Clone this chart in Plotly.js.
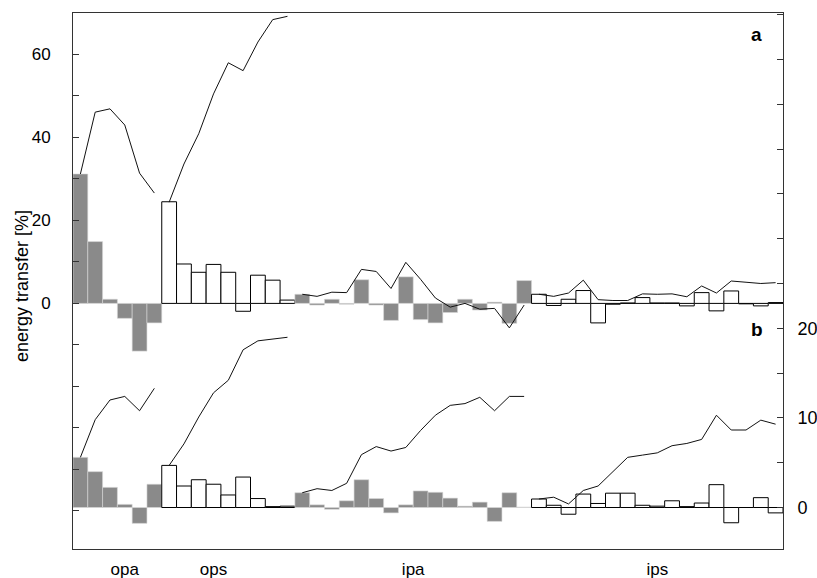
<!DOCTYPE html>
<html>
<head>
<meta charset="utf-8">
<script src="https://cdn.plot.ly/plotly-3.0.1.min.js"></script>
<style>html,body{margin:0;padding:0;background:#fff}#chart{width:817px;height:578px}</style>
</head>
<body>
<div id="chart"></div>
<script>
// Groups (categories)
const groups = ["opa", "ops", "ipa", "ips"];

// Panel a: bar values (left axis, %)
const opaA = [31.2, 14.9, 1.0, -3.6, -11.5, -4.7];
const opsA = [24.5, 9.5, 7.5, 9.4, 7.5, -1.9, 6.8, 5.6, 0.8];
const ipaA = [2.2, -0.4, 1.0, -0.2, 5.7, -0.4, -4.1, 6.4, -3.9, -4.7, -2.2, 1.0, -1.6, 0.3, -4.8, 5.5];
const ipsA = [2.2, -0.5, 1.0, 3.1, -4.7, -0.2, 0.1, 1.4, 0.1, 0.1, -0.6, 2.6, -1.8, 3.0, -0.1, -0.6, 0.2];

// Panel a: line values (left axis)
const opaALine = [31.2, 46.1, 46.9, 43.0, 31.4, 26.6];
const opsALine = [24.4, 33.6, 40.9, 50.5, 58.0, 56.1, 63.0, 68.4, 69.2];
const ipaALine = [2.2, 1.7, 2.7, 2.6, 8.2, 7.7, 3.6, 9.9, 5.8, 1.3, -0.9, 0.0, -1.4, -1.2, -5.9, -0.4];
const ipsALine = [2.2, 1.7, 2.5, 5.6, 0.9, 0.7, 0.7, 2.3, 2.2, 2.3, 1.6, 4.2, 2.5, 5.4, 5.1, 4.8, 5.0];

// Panel b: bar values (right axis)
const opaB = [5.6, 4.0, 2.25, 0.35, -1.77, 2.6];
const opsB = [4.7, 2.4, 3.1, 2.6, 1.4, 3.4, 1.0, 0.1, 0.15];
const ipaB = [1.65, 0.3, -0.2, 0.75, 3.1, 1.0, -0.6, 0.3, 1.85, 1.7, 1.05, 0.15, 0.6, -1.55, 1.65, 0.05];
const ipsB = [0.95, 0.25, -0.75, 1.5, 0.45, 1.6, 1.6, 0.25, 0.15, 0.75, 0.1, 0.5, 2.55, -1.7, 0.0, 1.1, -0.6];

// Panel b: line values (right axis)
const opaBLine = [5.6, 9.8, 12.0, 12.4, 10.8, 13.3];
const opsBLine = [4.7, 7.1, 10.1, 12.8, 14.2, 17.6, 18.6, 18.8, 19.0];
const ipaBLine = [1.65, 2.1, 1.9, 2.7, 5.9, 6.8, 6.3, 6.7, 8.6, 10.3, 11.4, 11.6, 12.3, 10.8, 12.4, 12.4];
const ipsBLine = [0.95, 1.15, 0.4, 1.9, 2.4, 4.0, 5.6, 5.85, 6.1, 6.9, 7.15, 7.6, 10.3, 8.65, 8.65, 9.75, 9.3];

// Axis tick labels
const leftTicks = [-50, -40, -30, -20, -10, 0, 10, 20, 30, 40, 50, 60];
const leftLabels = ["", "", "", "", "", "0", "", "20", "", "40", "", "60"];
const rightTicks = [0, 5, 10, 15, 20, 25, 30, 35, 40, 45, 50, 55];
const rightLabels = ["0", "", "10", "", "20", "", "", "", "", "", "", ""];
const yTitle = "energy transfer [%]";

const GREY = "#8a8a8a";
const barsA = [opaA, opsA, ipaA, ipsA];
const barsB = [opaB, opsB, ipaB, ipsB];
const linesA = [opaALine, opsALine, ipaALine, ipsALine];
const linesB = [opaBLine, opsBLine, ipaBLine, ipsBLine];
const filled = [true, false, true, false];

const traces = [];
let offset = 0;
const groupCenters = [];
for (let g = 0; g < groups.length; g++) {
  const n = barsA[g].length;
  const xs = barsA[g].map((_, i) => offset + i);
  groupCenters.push(offset + (n - 1) / 2);
  const marker = filled[g]
    ? {color: GREY, line: {color: "#d8d8d8", width: 0.6}}
    : {color: "#ffffff", line: {color: "#000000", width: 1}};
  traces.push({type: "bar", x: xs, y: barsA[g], width: 1, marker: marker, yaxis: "y", hoverinfo: "skip"});
  traces.push({type: "bar", x: xs, y: barsB[g], width: 1, marker: marker, yaxis: "y2", hoverinfo: "skip"});
  traces.push({type: "scatter", mode: "lines", x: xs, y: linesA[g], line: {color: "#111", width: 1}, yaxis: "y", hoverinfo: "skip"});
  traces.push({type: "scatter", mode: "lines", x: xs, y: linesB[g], line: {color: "#111", width: 1}, yaxis: "y2", hoverinfo: "skip"});
  offset += n;
}

const labelPos = groupCenters.map((c, i) => c + [0.5, -1.0, 0, 0][i]);

const layout = {
  width: 817, height: 578,
  margin: {l: 73, r: 34, t: 13, b: 29, pad: 0},
  paper_bgcolor: "#fff", plot_bgcolor: "#fff",
  showlegend: false,
  barmode: "overlay",
  font: {family: "Liberation Sans, Arial, sans-serif", color: "#000"},
  xaxis: {
    range: [-0.5, offset - 0.5],
    tickvals: labelPos, ticktext: groups,
    ticks: "", showgrid: false, zeroline: false,
    showline: true, mirror: true, linecolor: "#333", linewidth: 1,
    tickfont: {size: 17}, ticklabelstandoff: 5
  },
  yaxis: {
    range: [-59.2, 70],
    tickvals: leftTicks, ticktext: leftLabels,
    ticks: "inside", ticklen: 6, tickcolor: "#333",
    showgrid: false, zeroline: false,
    showline: true, linecolor: "#333", linewidth: 1,
    tickfont: {size: 17}, ticklabelstandoff: 18
  },
  yaxis2: {
    range: [-4.63, 55.19], overlaying: "y", side: "right",
    tickvals: rightTicks, ticktext: rightLabels,
    ticks: "inside", ticklen: 6, tickcolor: "#333",
    showgrid: false, zeroline: false,
    showline: true, linecolor: "#333", linewidth: 1,
    tickfont: {size: 18}, ticklabelstandoff: 10
  },
  annotations: [
    {text: yTitle, xref: "paper", yref: "paper", x: -0.0718, y: 0.4907, xanchor: "center", yanchor: "middle", textangle: -90, showarrow: false, font: {size: 18}},
    {text: "<b>a</b>", xref: "paper", yref: "paper", x: 0.963, y: 0.959, xanchor: "center", yanchor: "middle", showarrow: false, font: {size: 19}},
    {text: "<b>b</b>", xref: "paper", yref: "paper", x: 0.963, y: 0.4086, xanchor: "center", yanchor: "middle", showarrow: false, font: {size: 19}}
  ]
};

Plotly.newPlot("chart", traces, layout, {staticPlot: true, displayModeBar: false});
</script>
</body>
</html>
